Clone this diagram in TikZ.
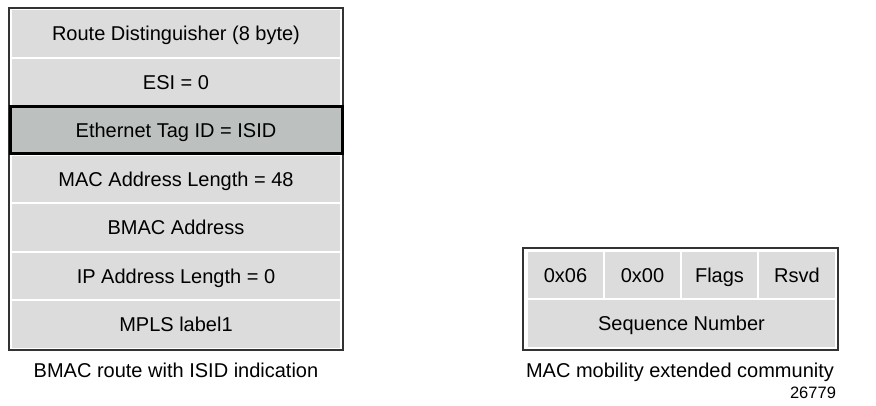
\documentclass[tikz,border=0pt]{standalone}
\usepackage{fontspec}
\setmainfont{Liberation Sans}
\definecolor{cellgray}{HTML}{DCDCDC}
\definecolor{taggray}{HTML}{BCC1C0}
\definecolor{framegray}{HTML}{333333}

\begin{document}
\begin{tikzpicture}[x=1pt,y=-1pt,frame/.style={draw=framegray,line width=1.6pt,fill=white,inner sep=0pt},field/.style={fill=cellgray,inner sep=0pt,minimum width=328pt,minimum height=46.5pt,text height=14.5pt,text depth=0pt,font=\fontsize{20}{24}\selectfont},tagfield/.style={field,fill=taggray,draw=black,line width=3pt,minimum width=332pt,minimum height=47pt},byte/.style={field,minimum width=75pt,minimum height=46pt},caption/.style={inner sep=0pt,text height=14.5pt,text depth=0pt,font=\fontsize{20}{24}\selectfont}]
\fill[white] (0,0) rectangle (876,405);
\useasboundingbox (0,0) rectangle (876,405);
% BMAC route
\node[frame,minimum width=334pt,minimum height=342pt] (bmacframe) at (176,179) {};
\node[field] (rd) at (176,33.3) {Route Distinguisher (8 byte)};
\node[field] (esi) at (176,81.8) {ESI = 0};
\node[tagfield] (tag) at (176,130.4) {Ethernet Tag ID = ISID};
\node[field] (maclen) at (176,179) {MAC Address Length = 48};
\node[field] (bmac) at (176,227.5) {BMAC Address};
\node[field] (iplen) at (176,276.1) {IP Address Length = 0};
\node[field] (mpls) at (176,324.7) {MPLS label1};
\node[caption] (bmaccap) at (176,370) {BMAC route with ISID indication};
% MAC mobility community
\node[frame,minimum width=315pt,minimum height=102pt] (mobframe) at (680.5,299) {};
\node[byte] (type) at (565.5,275) {0x06};
\node[byte] (subtype) at (642.5,275) {0x00};
\node[byte] (flags) at (719.5,275) {Flags};
\node[byte,minimum width=76pt] (rsvd) at (797,275) {Rsvd};
\node[field,minimum width=307pt,minimum height=47pt] (seq) at (681.5,323.5) {Sequence Number};
\node[caption] (mobcap) at (680,370) {MAC mobility extended community};
\node[font=\fontsize{16.5}{19}\selectfont,inner sep=0pt] (figid) at (813,393) {26779};
\end{tikzpicture}
\end{document}
